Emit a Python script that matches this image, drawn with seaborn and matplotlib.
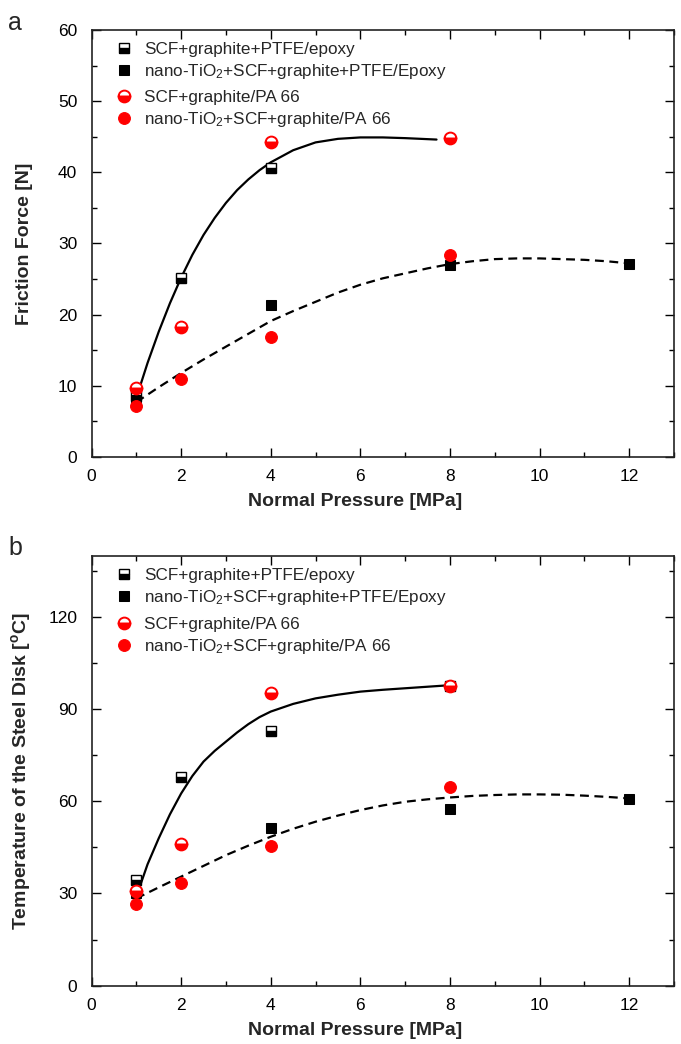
import numpy as np
import pandas as pd
import matplotlib
matplotlib.use("Agg")
import matplotlib.pyplot as plt
from matplotlib.ticker import MultipleLocator
import seaborn as sns

sns.set_theme(style="ticks")
plt.rcParams["font.family"] = ["Liberation Sans", "DejaVu Sans"]
plt.rcParams["mathtext.fontset"] = "custom"
plt.rcParams["mathtext.rm"] = "Liberation Sans"
plt.rcParams["mathtext.it"] = "Liberation Sans:italic"
plt.rcParams["mathtext.bf"] = "Liberation Sans:bold"

labels = ["SCF+graphite+PTFE/epoxy",
          "nano-TiO$_2$+SCF+graphite+PTFE/Epoxy",
          "SCF+graphite/PA 66",
          "nano-TiO$_2$+SCF+graphite/PA 66"]

# panel a: friction force [N]
a_ep_x = [1, 2, 4]
a_ep_y = [8.5, 25.2, 40.6]
a_nep_x = [1, 4, 8, 12]
a_nep_y = [8.0, 21.3, 27.0, 27.1]
a_pa_x = [1, 2, 4, 8]
a_pa_y = [9.7, 18.3, 44.2, 44.8]
a_npa_x = [1, 2, 4, 8]
a_npa_y = [7.1, 10.9, 16.8, 28.4]

# fitted curves
a_fit1_x = [1, 1.25, 1.5, 1.75, 2, 2.25, 2.5, 2.75, 3, 3.25, 3.5, 3.75, 4, 4.5, 5, 5.5, 6, 6.5, 7, 7.7]
a_fit1_y = [8.3, 13.2, 17.6, 21.6, 25.2, 28.4, 31.2, 33.6, 35.7, 37.5, 39.0, 40.3, 41.4, 43.1, 44.2, 44.7, 44.9, 44.9, 44.8, 44.6]
a_fit2_x = [1, 1.5, 2, 2.5, 3, 3.5, 4, 4.5, 5, 5.5, 6, 6.5, 7, 7.5, 8, 8.5, 9, 9.5, 10, 10.5, 11, 11.5, 12, 12.2]
a_fit2_y = [7.7, 9.8, 11.8, 13.7, 15.5, 17.3, 19.1, 20.5, 21.8, 23.1, 24.2, 25.1, 25.8, 26.5, 27.1, 27.5, 27.8, 27.9, 27.9, 27.8, 27.7, 27.5, 27.2, 27.1]

# panel b: steel disk temperature [C]
b_ep_x = [1, 2, 4, 8]
b_ep_y = [34.4, 68.1, 83.1, 97.6]
b_nep_x = [1, 4, 8, 12]
b_nep_y = [30.0, 51.2, 57.4, 60.8]
b_pa_x = [1, 2, 4, 8]
b_pa_y = [30.9, 46.0, 95.2, 97.6]
b_npa_x = [1, 2, 4, 8]
b_npa_y = [26.6, 33.3, 45.6, 64.8]

b_fit1_x = [1, 1.25, 1.5, 1.75, 2, 2.25, 2.5, 2.75, 3, 3.25, 3.5, 3.75, 4, 4.5, 5, 5.5, 6, 6.5, 7, 7.5, 8]
b_fit1_y = [29.0, 39.5, 48.0, 55.8, 62.6, 68.3, 73.0, 76.5, 79.5, 82.5, 85.2, 87.5, 89.3, 91.8, 93.6, 94.8, 95.8, 96.4, 96.9, 97.4, 97.9]
b_fit2_x = [1, 1.5, 2, 2.5, 3, 3.5, 4, 4.5, 5, 5.5, 6, 6.5, 7, 7.5, 8, 8.5, 9, 9.5, 10, 10.5, 11, 11.5, 12, 12.1]
b_fit2_y = [28.4, 32.0, 35.5, 39.0, 42.5, 45.6, 48.5, 51.1, 53.4, 55.4, 57.2, 58.7, 59.9, 60.7, 61.3, 61.8, 62.1, 62.3, 62.3, 62.2, 61.9, 61.5, 61.0, 60.9]

fig = plt.figure(figsize=(6.81, 10.44), dpi=100)
ax1 = fig.add_axes([0.1344, 0.5623, 0.8553, 0.409])
ax2 = fig.add_axes([0.1344, 0.0560, 0.8553, 0.4114])

ms = 7.5


def draw_panel(ax, ep, nep, pa, npa, fit1, fit2, leg2_y):
    sns.lineplot(x=fit1[0], y=fit1[1], color="black", lw=1.6, ls="-", ax=ax, sort=False)
    sns.lineplot(x=fit2[0], y=fit2[1], color="black", lw=1.6, ls=(0, (4, 2.5)), ax=ax, sort=False)
    sns.lineplot(x=ep[0], y=ep[1], ax=ax, ls="", marker="s", ms=ms, color="black",
                 fillstyle="bottom", markerfacecoloralt="white", mec="black", mew=1.0,
                 label=labels[0])
    sns.lineplot(x=nep[0], y=nep[1], ax=ax, ls="", marker="s", ms=ms, color="black",
                 mec="black", label=labels[1])
    sns.lineplot(x=pa[0], y=pa[1], ax=ax, ls="", marker="o", ms=ms + 1, color="red",
                 fillstyle="bottom", markerfacecoloralt="white", mec="red", mew=1.4,
                 label=labels[2])
    sns.lineplot(x=npa[0], y=npa[1], ax=ax, ls="", marker="o", ms=ms + 1, color="red",
                 mec="red", label=labels[3])
    ax.set_xlim(0, 13)
    ax.xaxis.set_major_locator(MultipleLocator(2))
    ax.xaxis.set_minor_locator(MultipleLocator(1))
    ax.tick_params(which="both", direction="in", top=True, right=True,
                   labelsize=12.5, width=1.0, colors="black")
    ax.tick_params(which="major", length=6.3)
    ax.tick_params(which="minor", length=3.4)
    ax.tick_params(axis="x", which="both", pad=8.8)
    ax.tick_params(axis="y", which="both", pad=10.2)
    for s in ax.spines.values():
        s.set_linewidth(1.2)
        s.set_color("#222222")
    ax.set_xlabel("Normal Pressure [MPa]", fontsize=14, fontweight="bold")
    ax.xaxis.set_label_coords(0.452, -0.084)

    handles, labs = ax.get_legend_handles_labels()
    leg_kw = dict(loc="upper left", frameon=False, fontsize=12.3, handlelength=1.0,
                  handletextpad=0.7, labelspacing=0.3, borderaxespad=0.3)
    leg1 = ax.legend(handles[:2], labs[:2], bbox_to_anchor=(0.02, 1.0), **leg_kw)
    ax.add_artist(leg1)
    ax.legend(handles[2:], labs[2:], bbox_to_anchor=(0.02, leg2_y), **leg_kw)


draw_panel(ax1, (a_ep_x, a_ep_y), (a_nep_x, a_nep_y), (a_pa_x, a_pa_y), (a_npa_x, a_npa_y),
           (a_fit1_x, a_fit1_y), (a_fit2_x, a_fit2_y), 0.887)
ax1.set_ylim(0, 60)
ax1.yaxis.set_major_locator(MultipleLocator(10))
ax1.yaxis.set_minor_locator(MultipleLocator(5))
ax1.set_ylabel("Friction Force [N]", fontsize=14, fontweight="bold")
ax1.yaxis.set_label_coords(-0.100, 0.5)

draw_panel(ax2, (b_ep_x, b_ep_y), (b_nep_x, b_nep_y), (b_pa_x, b_pa_y), (b_npa_x, b_npa_y),
           (b_fit1_x, b_fit1_y), (b_fit2_x, b_fit2_y), 0.886)
ax2.set_ylim(0, 140)
ax2.yaxis.set_major_locator(MultipleLocator(30))
ax2.yaxis.set_minor_locator(MultipleLocator(15))
ax2.set_ylabel("Temperature of the Steel Disk [$^\\mathregular{o}$C]", fontsize=14,
               fontweight="bold")
ax2.yaxis.set_label_coords(-0.100, 0.5)

fig.text(0.012, 0.978, "a", fontsize=18, va="center", ha="left")
fig.text(0.012, 0.475, "b", fontsize=18, va="center", ha="left")

fig.savefig("out.png", dpi=100)
